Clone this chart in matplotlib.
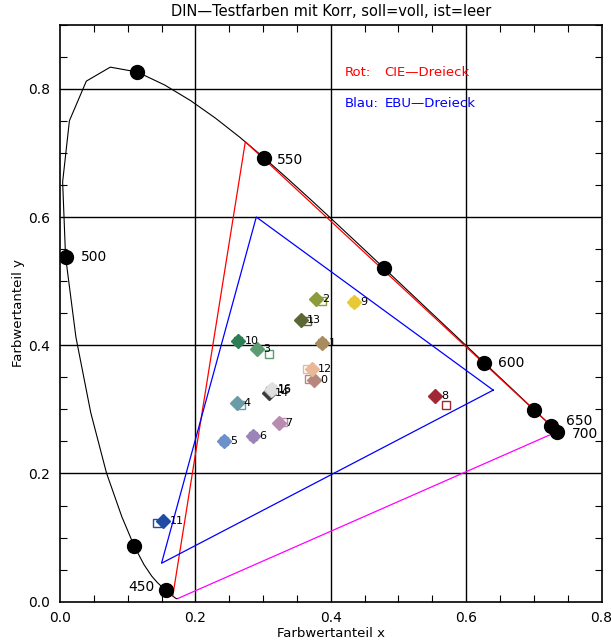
import matplotlib
matplotlib.use("Agg")
import matplotlib.pyplot as plt
import numpy as np

# CIE 1931 spectral locus, 380..700 nm in 5 nm steps
wl = list(range(380, 705, 5))
locus_x = [0.1741, 0.1740, 0.1738, 0.1736, 0.1733, 0.1730, 0.1726, 0.1721, 0.1714, 0.1703,
           0.1689, 0.1669, 0.1644, 0.1611, 0.1566, 0.1510, 0.1440, 0.1355, 0.1241, 0.1096,
           0.0913, 0.0687, 0.0454, 0.0235, 0.0082, 0.0039, 0.0139, 0.0389, 0.0743, 0.1142,
           0.1547, 0.1929, 0.2296, 0.2658, 0.3016, 0.3373, 0.3731, 0.4087, 0.4441, 0.4788,
           0.5125, 0.5448, 0.5752, 0.6029, 0.6270, 0.6482, 0.6658, 0.6801, 0.6915, 0.7006,
           0.7079, 0.7140, 0.7190, 0.7230, 0.7260, 0.7283, 0.7300, 0.7311, 0.7320, 0.7327,
           0.7334, 0.7340, 0.7344, 0.7346, 0.7347]
locus_y = [0.0050, 0.0050, 0.0049, 0.0049, 0.0048, 0.0048, 0.0048, 0.0048, 0.0051, 0.0058,
           0.0069, 0.0086, 0.0109, 0.0138, 0.0177, 0.0227, 0.0297, 0.0399, 0.0578, 0.0868,
           0.1327, 0.2007, 0.2950, 0.4127, 0.5384, 0.6548, 0.7502, 0.8120, 0.8338, 0.8262,
           0.8059, 0.7816, 0.7543, 0.7243, 0.6923, 0.6589, 0.6245, 0.5896, 0.5547, 0.5202,
           0.4866, 0.4544, 0.4242, 0.3965, 0.3725, 0.3514, 0.3340, 0.3197, 0.3083, 0.2993,
           0.2920, 0.2859, 0.2809, 0.2770, 0.2740, 0.2717, 0.2700, 0.2689, 0.2680, 0.2673,
           0.2666, 0.2660, 0.2656, 0.2654, 0.2653]

dot_wl = [450, 475, 500, 525, 550, 575, 600, 625, 650, 700]
label_wl = [450, 500, 550, 600, 650, 700]

# Triangles
cie_x = [0.7347, 0.2738, 0.1666]
cie_y = [0.2653, 0.7174, 0.0089]
ebu_x = [0.64, 0.29, 0.15, 0.64]
ebu_y = [0.33, 0.60, 0.06, 0.33]

# DIN test colours: soll (filled) and ist (open)
tc_names = ["0", "1", "2", "3", "4", "5", "6", "7", "8", "9", "10", "11", "12", "13", "14", "15", "16"]
soll_x = [0.3757, 0.3875, 0.3777, 0.2915, 0.2620, 0.2423, 0.2846, 0.3235, 0.5540, 0.4343,
          0.2634, 0.1527, 0.3718, 0.3560, 0.3088, 0.3120, 0.3127]
soll_y = [0.3454, 0.4040, 0.4718, 0.3947, 0.3095, 0.2507, 0.2585, 0.2793, 0.3209, 0.4680,
          0.4072, 0.1259, 0.3635, 0.4395, 0.3251, 0.3300, 0.3318]
ist_x = [0.3679, 0.3875, 0.3866, 0.3088, 0.2674, 0.2423, 0.2846, 0.3300, 0.5703, 0.4343,
         0.2634, 0.1437, 0.3644, 0.3644, 0.3100, 0.3127, 0.3135]
ist_y = [0.3470, 0.4040, 0.4696, 0.3869, 0.3069, 0.2507, 0.2585, 0.2799, 0.3075, 0.4680,
         0.4072, 0.1223, 0.3635, 0.4379, 0.3280, 0.3318, 0.3325]
tc_colors = ["#b8867c", "#a88c60", "#8c9c3c", "#5c9c70", "#6a9ca8", "#6c90c8", "#9a84b8",
             "#b88cb0", "#a02834", "#e8c834", "#2c7c54", "#1c4ca4", "#e8b898", "#5c6834",
             "#3c3c3c", "#c8c8c8", "#e0e0e0"]

fig = plt.figure(figsize=(6.11, 6.43), dpi=100)
ax = fig.add_axes([60/611, (643-601.7)/643, 541.5/611, 577/643])
ax.set_xlim(0, 0.8)
ax.set_ylim(0, 0.9)

# grid
for gx in [0.2, 0.4, 0.6]:
    ax.axvline(gx, color="black", lw=1.0, zorder=1)
for gy in [0.2, 0.4, 0.6, 0.8]:
    ax.axhline(gy, color="black", lw=1.0, zorder=1)

# locus
ax.plot(locus_x, locus_y, color="black", lw=0.8, zorder=2)
ax.plot([locus_x[0], locus_x[-1]], [locus_y[0], locus_y[-1]], color="#ff00ff", lw=0.9, zorder=2)
ax.plot(cie_x, cie_y, color="red", lw=0.9, zorder=3)
ax.plot(ebu_x, ebu_y, color="blue", lw=0.9, zorder=3)

dx = [locus_x[wl.index(w)] for w in dot_wl]
dy = [locus_y[wl.index(w)] for w in dot_wl]
ax.plot(dx, dy, "o", color="black", ms=10, zorder=4)

wl_offsets = {450: (-11, 3, "right"), 500: (15, 0, "left"), 550: (13, -2, "left"),
              600: (14, 0, "left"), 650: (15, 5, "left"), 700: (15, -2, "left")}
for w in label_wl:
    ox, oy, ha = wl_offsets[w]
    ax.annotate(str(w), (locus_x[wl.index(w)], locus_y[wl.index(w)]),
                xytext=(ox * 0.72, oy * 0.72), textcoords="offset points",
                ha=ha, va="center", fontsize=10, zorder=6)

for i, n in enumerate(tc_names):
    c = tc_colors[i]
    ax.plot(soll_x[i], soll_y[i], "D", color=c, mec=c, ms=7.5, zorder=5)
    ax.plot(ist_x[i], ist_y[i], "s", mfc="none", mec=c, mew=1.0, ms=5.5, zorder=5)
    ax.annotate(n, (soll_x[i], soll_y[i]), xytext=(4.5, 0), textcoords="offset points",
                ha="left", va="center", fontsize=8, zorder=6)

ax.text(0.42, 0.826, "Rot:", color="red", fontsize=9.5, va="center")
ax.text(0.4795, 0.826, "CIE\u2014Dreieck", color="red", fontsize=9.5, va="center")
ax.text(0.42, 0.7775, "Blau:", color="blue", fontsize=9.5, va="center")
ax.text(0.4795, 0.7775, "EBU\u2014Dreieck", color="blue", fontsize=9.5, va="center")

ax.set_xticks([0.0, 0.2, 0.4, 0.6, 0.8])
ax.set_xticklabels(["0.0", "0.2", "0.4", "0.6", "0.8"])
ax.set_yticks([0.0, 0.2, 0.4, 0.6, 0.8])
ax.set_yticklabels(["0.0", "0.2", "0.4", "0.6", "0.8"])
ax.set_xticks(np.arange(0, 0.81, 0.05), minor=True)
ax.set_yticks(np.arange(0, 0.91, 0.05), minor=True)
ax.tick_params(which="both", direction="in", top=True, right=True, labelsize=10)
ax.tick_params(which="major", length=0, pad=7)
ax.tick_params(which="minor", length=5, width=0.8)
for s in ax.spines.values():
    s.set_linewidth(1.2)

ax.set_xlabel("Farbwertanteil x", fontsize=9.5, labelpad=1)
ax.set_ylabel("Farbwertanteil y", fontsize=9.5, labelpad=2)
ax.set_title("DIN\u2014Testfarben mit Korr, soll=voll, ist=leer", fontsize=10.5, pad=6)

fig.savefig("out.png", dpi=100)
